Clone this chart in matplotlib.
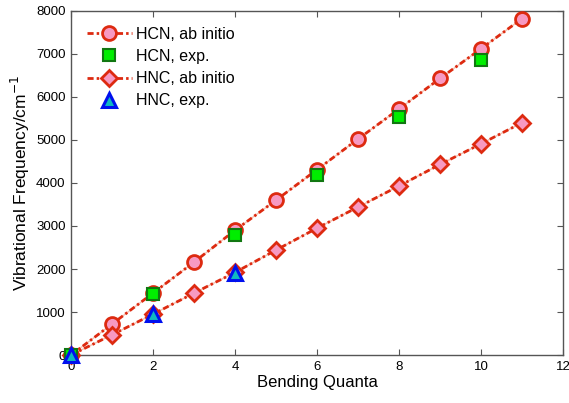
import matplotlib
matplotlib.use("Agg")
import matplotlib.pyplot as plt
from matplotlib.lines import Line2D

plt.rcParams['font.family'] = ['Liberation Sans', 'DejaVu Sans']

# Bending quanta and vibrational frequencies (cm^-1)
hcn_ab_x = [0, 1, 2, 3, 4, 5, 6, 7, 8, 9, 10, 11]
hcn_ab_y = [0, 720, 1440, 2160, 2900, 3600, 4310, 5020, 5720, 6430, 7120, 7820]
hcn_exp_x = [0, 2, 4, 6, 8, 10]
hcn_exp_y = [0, 1420, 2800, 4180, 5540, 6860]
hnc_ab_x = [0, 1, 2, 3, 4, 5, 6, 7, 8, 9, 10, 11]
hnc_ab_y = [0, 470, 950, 1440, 1920, 2440, 2950, 3440, 3930, 4430, 4910, 5400]
hnc_exp_x = [0, 2, 4]
hnc_exp_y = [0, 960, 1900]

labels = ["HCN, ab initio", "HCN, exp.", "HNC, ab initio", "HNC, exp."]
x_ticks = [0, 2, 4, 6, 8, 10, 12]
y_ticks = [0, 1000, 2000, 3000, 4000, 5000, 6000, 7000, 8000]

red = '#dd2a10'
pink = '#f799c2'
dashdot = (0, (2.2, 1.1, 0.9, 1.1))

fig = plt.figure(figsize=(5.69, 4.03), dpi=100)
ax = fig.add_axes([0.1248, 0.119, 0.8647, 0.854])

def ab_line(x, y, marker, ms):
    ax.plot(x, y, '-', color='#f5c0b0', lw=1.0, zorder=2)
    ax.plot(x, y, linestyle=dashdot, color=red, lw=2.0, zorder=3,
            marker=marker, ms=ms, mfc=pink, mec=red, mew=2, clip_on=False)

ab_line(hcn_ab_x, hcn_ab_y, 'o', 10)
ax.plot(hcn_exp_x, hcn_exp_y, 's', ms=8.5, mfc='#00ee00', mec='#117711', mew=1.5,
        zorder=4, clip_on=False)
ab_line(hnc_ab_x, hnc_ab_y, 'D', 8.5)
ax.plot(hnc_exp_x, hnc_exp_y, '^', ms=10.5, mfc='#10b8c0', mec='#0010ee', mew=2.2,
        zorder=5, clip_on=False)

ax.set_xlim(0, 12)
ax.set_ylim(0, 8000)
ax.set_xticks(x_ticks)
ax.set_yticks(y_ticks)
ax.tick_params(direction='in', top=True, right=True, length=4, color='#555555',
               labelsize=9.5, pad=4)
for s in ax.spines.values():
    s.set_color('#555555')
    s.set_linewidth(1.0)

ax.set_xlabel("Bending Quanta", fontsize=12, labelpad=2)
ax.set_ylabel("Vibrational Frequency/cm$^{-1}$", fontsize=12.5, labelpad=3)

handles = [
    Line2D([], [], linestyle=dashdot, color=red, lw=2.0, marker='o',
           ms=10, mfc=pink, mec=red, mew=2),
    Line2D([], [], linestyle='none', marker='s', ms=8.5, mfc='#00ee00',
           mec='#117711', mew=1.5),
    Line2D([], [], linestyle=dashdot, color=red, lw=2.0, marker='D',
           ms=8.5, mfc=pink, mec=red, mew=2),
    Line2D([], [], linestyle='none', marker='^', ms=10.5, mfc='#10b8c0',
           mec='#0010ee', mew=2.2),
]
ax.legend(handles, labels, loc='upper left', frameon=False, fontsize=11.5,
          handlelength=2.8, handletextpad=0.3, labelspacing=0.45,
          borderaxespad=0.6)

fig.savefig("out.png", dpi=100)
